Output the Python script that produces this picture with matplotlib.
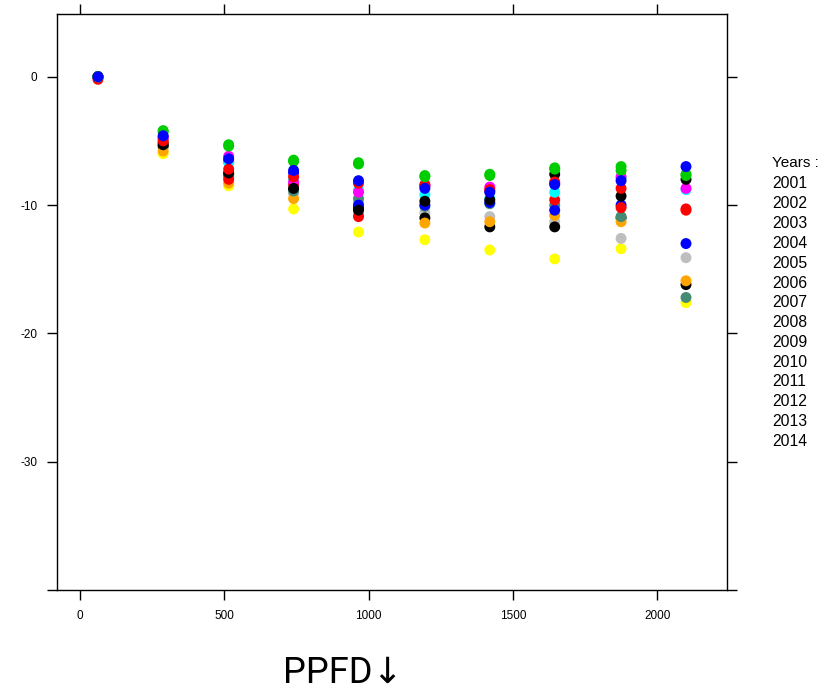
import numpy as np
import matplotlib
matplotlib.use("Agg")
import matplotlib.pyplot as plt

# PPFD classes (x) and the response of each series at those classes
ppfd = [62, 288, 515, 740, 965, 1195, 1420, 1645, 1875, 2100]

years = ["2001", "2002", "2003", "2004", "2005", "2006", "2007",
         "2008", "2009", "2010", "2011", "2012", "2013", "2014"]

# series values, listed in drawing order
yellow = [0, -6.0, -8.5, -10.3, -12.1, -12.7, -13.5, -14.2, -13.4, -17.6]
gray = [0, -5.5, -7.8, -9.1, -9.8, -10.6, -10.9, -11.3, -12.6, -14.1]
black_b = [0, -5.4, -7.6, -8.8, -10.2, -11.0, -11.7, -11.7, -11.0, -16.2]
orange = [0, -5.8, -8.3, -9.5, -10.7, -11.4, -11.3, -10.8, -11.3, -15.9]
teal = [0, -5.2, -7.7, -8.9, -9.5, -10.1, -9.9, -10.0, -10.9, -17.2]
blue_b = [0, -4.7, -6.6, -7.5, -10.0, -10.0, -9.8, -10.4, -10.0, -13.0]
red_b = [-0.2, -5.1, -8.0, -8.4, -10.9, -8.5, -8.9, -9.6, -10.2, -10.4]
cyan = [0, -4.9, -6.7, -8.0, -8.8, -9.2, -9.5, -9.0, -7.9, -8.8]
magenta = [0, -4.8, -6.2, -8.2, -9.0, -8.5, -8.6, -8.3, -7.8, -8.7]
black_a = [0, -5.3, -7.5, -8.7, -10.4, -9.7, -9.6, -7.6, -9.3, -8.0]
red_a = [0, -5.0, -7.2, -7.8, -8.3, -8.4, -8.8, -8.2, -8.7, -10.3]
green_b = [0, -4.3, -5.4, -6.6, -6.8, -7.8, -7.7, -7.2, -7.3, -7.6]
green_a = [0, -4.2, -5.3, -6.5, -6.7, -7.7, -7.6, -7.1, -7.0, -7.7]
blue_a = [0, -4.6, -6.4, -7.3, -8.1, -8.7, -9.0, -8.4, -8.1, -7.0]

series = [
    (yellow, "#FFFF00"), (gray, "#BEBEBE"), (black_b, "#000000"),
    (orange, "#FFA500"), (teal, "#458B74"), (blue_b, "#0000FF"),
    (red_b, "#FF0000"), (cyan, "#00FFFF"), (magenta, "#FF00FF"),
    (black_a, "#000000"), (red_a, "#FF0000"), (green_b, "#00CD00"),
    (green_a, "#00CD00"), (blue_a, "#0000FF"),
]

plt.rcParams['font.family'] = ['Liberation Sans', 'DejaVu Sans']

fig = plt.figure(figsize=(8.38, 6.91), dpi=100)
ax = fig.add_axes([0.068, 0.146, 0.7995, 0.834])

for vals, col in series:
    ax.scatter(ppfd, vals, s=62, color=col, edgecolors='none', zorder=3)

ax.set_xlim(-80, 2242)
ax.set_ylim(-40, 4.9)
ax.set_xticks([0, 500, 1000, 1500, 2000])
ax.set_yticks([-40, -30, -20, -10, 0])
ax.set_yticklabels(["", "-30", "-20", "-10", "0"])
ax.tick_params(direction='out', length=7.2, width=1, labelsize=8.5,
               top=True, right=True, labeltop=False, labelright=False, pad=7)
for sp in ax.spines.values():
    sp.set_linewidth(1)

# legend block as plain text
fig.text(772 / 838, 1 - 163 / 691, "Years :", fontsize=11, va='center', ha='left')
for i, yr in enumerate(years):
    fig.text(772 / 838, 1 - (184 + 19.8 * i) / 691, yr, fontsize=11.3,
             va='center', ha='left')

fig.text(343 / 838, 1 - 673 / 691, "PPFD\u2193", fontsize=26, ha='center', va='center',
         family=['Liberation Sans Narrow', 'Roboto', 'DejaVu Sans'])

fig.savefig("out.png", dpi=100)
plt.close()
